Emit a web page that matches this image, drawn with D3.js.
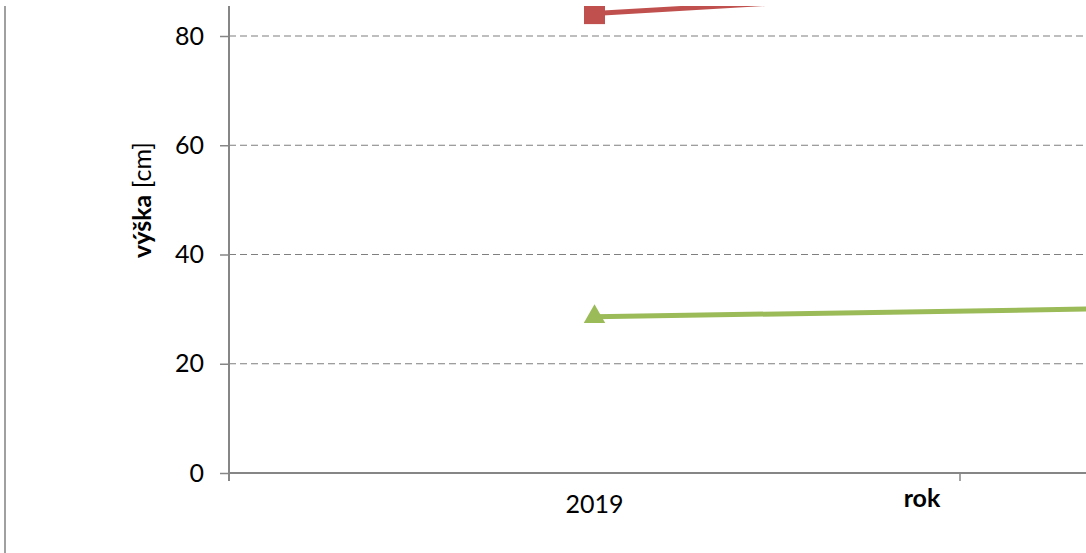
<!DOCTYPE html>
<html>
<head>
<meta charset="utf-8">
<script src="https://cdn.jsdelivr.net/npm/d3@7/dist/d3.min.js"></script>
<style>
  html, body { margin: 0; padding: 0; background: #fff; }
  svg { display: block; font-family: Lato, "Open Sans", sans-serif; }
</style>
</head>
<body>
<svg id="chart" width="1086" height="553"></svg>
<script>
// ---- data ----
const categories = ["2019", "2020"];
const seriesRed = [84.1, 92.0];
const seriesGreen = [28.6, 30.7];
const yTicks = [0, 20, 40, 60, 80];
const yTitleBold = "výška";
const yTitleRest = " [cm]";
const xTitle = "rok";

// ---- layout ----
const W = 1086, H = 553;
const x0 = 229, bandW = 731;
const clipTop = 6;
const svg = d3.select("#chart");

const x = d3.scaleBand().domain(categories).range([x0, x0 + bandW * categories.length]).padding(0);
const y = d3.scaleLinear().domain([0, 100]).range([473, 473 - 100 * 5.4625]);

svg.append("defs").append("clipPath").attr("id", "plotClip")
  .append("rect").attr("x", x0).attr("y", clipTop).attr("width", W - x0 + 2000).attr("height", 473 - clipTop + 20);

// left frame line
svg.append("line").attr("x1", 5).attr("x2", 5).attr("y1", clipTop).attr("y2", H)
  .attr("stroke", "#a0a0a0").attr("stroke-width", 2);

const plot = svg.append("g").attr("clip-path", "url(#plotClip)");

// gridlines
plot.selectAll("line.grid").data(yTicks.filter(d => d > 0)).enter().append("line")
  .attr("class", "grid")
  .attr("x1", x0).attr("x2", x0 + bandW * categories.length)
  .attr("y1", d => y(d)).attr("y2", d => y(d))
  .attr("stroke", "#7f7f7f").attr("stroke-width", 1.1).attr("stroke-dasharray", "7,4");

// y axis
const yAxis = d3.axisLeft(y).tickValues(yTicks).tickSize(9).tickPadding(16).tickFormat(d3.format("d"));
const gy = svg.append("g").attr("transform", `translate(${x0},0)`).call(yAxis);
gy.select(".domain").remove();
gy.selectAll(".tick line").attr("stroke", "#868686").attr("stroke-width", 1.5);
gy.selectAll(".tick text").attr("font-size", 25).attr("fill", "#000").attr("font-family", "Lato, sans-serif");
svg.append("line").attr("x1", x0).attr("x2", x0).attr("y1", clipTop).attr("y2", y(0) + 8)
  .attr("stroke", "#868686").attr("stroke-width", 2);

// x axis
const xAxis = d3.axisBottom(x).tickSize(0).tickPadding(22);
const gx = svg.append("g").attr("transform", `translate(0,${y(0)})`).call(xAxis);
gx.select(".domain").remove();
// labels whose category centre falls outside the visible window are not shown
gx.selectAll(".tick").filter(d => x(d) + x.bandwidth() / 2 > W).remove();
gx.selectAll(".tick text").attr("font-size", 25).attr("fill", "#000").attr("font-family", "Lato, sans-serif");
svg.append("line").attr("x1", x0).attr("x2", x0 + bandW * categories.length).attr("y1", y(0)).attr("y2", y(0))
  .attr("stroke", "#868686").attr("stroke-width", 2);
// x boundary ticks
svg.selectAll("line.xtick").data(d3.range(categories.length + 1)).enter().append("line")
  .attr("class", "xtick")
  .attr("x1", i => x0 + i * x.step()).attr("x2", i => x0 + i * x.step())
  .attr("y1", y(0)).attr("y2", y(0) + 8)
  .attr("stroke", "#868686").attr("stroke-width", 1.5);

// axis titles
svg.append("text").attr("x", 922).attr("y", 507).attr("text-anchor", "middle")
  .attr("font-size", 25).attr("font-weight", "bold").attr("fill", "#000").text(xTitle);
const yt = svg.append("text").attr("transform", "translate(151,200) rotate(-90)")
  .attr("text-anchor", "middle").attr("font-size", 25).attr("fill", "#000");
yt.append("tspan").attr("font-weight", "bold").text(yTitleBold);
yt.append("tspan").text(yTitleRest);

// series
const cx = d => x(d) + x.bandwidth() / 2;
const line = d3.line().x(d => cx(d.c)).y(d => y(d.v));
const red = categories.map((c, i) => ({c, v: seriesRed[i]}));
const green = categories.map((c, i) => ({c, v: seriesGreen[i]}));

plot.append("path").datum(red).attr("d", line).attr("fill", "none")
  .attr("stroke", "#C0504D").attr("stroke-width", 5);
plot.append("path").datum(green).attr("d", line).attr("fill", "none")
  .attr("stroke", "#9BBB59").attr("stroke-width", 5);

plot.selectAll("rect.mk").data(red).enter().append("rect").attr("class", "mk")
  .attr("x", d => cx(d.c) - 10.5).attr("y", d => y(d.v) - 10.5)
  .attr("width", 21).attr("height", 21).attr("fill", "#C0504D");
const tri = d3.symbol().type(d3.symbolTriangle).size(200);
plot.selectAll("path.mk").data(green).enter().append("path").attr("class", "mk")
  .attr("d", tri).attr("transform", d => `translate(${cx(d.c)},${y(d.v)})`)
  .attr("fill", "#9BBB59");
</script>
</body>
</html>
